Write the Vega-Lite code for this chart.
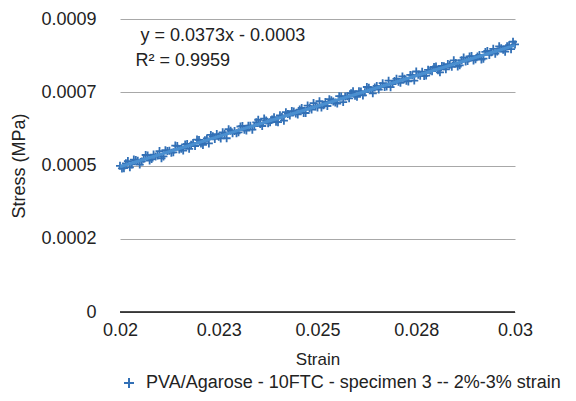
{
  "$schema": "https://vega.github.io/schema/vega-lite/v6.json",
  "width": 395,
  "height": 293,
  "autosize": {"type": "none"},
  "padding": {"left": 120, "top": 19, "right": 61, "bottom": 89},
  "background": "white",
  "config": {
    "view": {"stroke": null},
    "font": "Liberation Sans",
    "axis": {"labelFont": "Liberation Sans", "titleFont": "Liberation Sans", "labelColor": "#222", "titleColor": "#222", "titleFontWeight": "normal"}
  },
  "layer": [
    {
      "data": {"values": [{}]},
      "mark": {"type": "rule", "color": "#111", "strokeWidth": 1.3},
      "encoding": {"y": {"datum": 0, "type": "quantitative"}}
    },
    {
      "data": {"values": [
        {"strain": 0.0200, "stress": 0.0004490},
        {"strain": 0.0201, "stress": 0.0004417},
        {"strain": 0.0202, "stress": 0.0004635},
        {"strain": 0.0203, "stress": 0.0004532},
        {"strain": 0.0204, "stress": 0.0004669},
        {"strain": 0.0205, "stress": 0.0004527},
        {"strain": 0.0206, "stress": 0.0004704},
        {"strain": 0.0207, "stress": 0.0004811},
        {"strain": 0.0208, "stress": 0.0004698},
        {"strain": 0.0209, "stress": 0.0004776},
        {"strain": 0.0210, "stress": 0.0004943},
        {"strain": 0.0211, "stress": 0.0004780},
        {"strain": 0.0212, "stress": 0.0004948},
        {"strain": 0.0213, "stress": 0.0004895},
        {"strain": 0.0214, "stress": 0.0005112},
        {"strain": 0.0215, "stress": 0.0004990},
        {"strain": 0.0216, "stress": 0.0004957},
        {"strain": 0.0217, "stress": 0.0005164},
        {"strain": 0.0218, "stress": 0.0005141},
        {"strain": 0.0219, "stress": 0.0005099},
        {"strain": 0.0220, "stress": 0.0005286},
        {"strain": 0.0221, "stress": 0.0005133},
        {"strain": 0.0222, "stress": 0.0005331},
        {"strain": 0.0223, "stress": 0.0005438},
        {"strain": 0.0224, "stress": 0.0005315},
        {"strain": 0.0225, "stress": 0.0005383},
        {"strain": 0.0226, "stress": 0.0005520},
        {"strain": 0.0227, "stress": 0.0005337},
        {"strain": 0.0228, "stress": 0.0005564},
        {"strain": 0.0229, "stress": 0.0005562},
        {"strain": 0.0230, "stress": 0.0005519},
        {"strain": 0.0231, "stress": 0.0005716},
        {"strain": 0.0232, "stress": 0.0005574},
        {"strain": 0.0233, "stress": 0.0005721},
        {"strain": 0.0234, "stress": 0.0005708},
        {"strain": 0.0235, "stress": 0.0005906},
        {"strain": 0.0236, "stress": 0.0005713},
        {"strain": 0.0237, "stress": 0.0005880},
        {"strain": 0.0238, "stress": 0.0005827},
        {"strain": 0.0239, "stress": 0.0005985},
        {"strain": 0.0240, "stress": 0.0005832},
        {"strain": 0.0241, "stress": 0.0005999},
        {"strain": 0.0242, "stress": 0.0006137},
        {"strain": 0.0243, "stress": 0.0006034},
        {"strain": 0.0244, "stress": 0.0006161},
        {"strain": 0.0245, "stress": 0.0006069},
        {"strain": 0.0246, "stress": 0.0006266},
        {"strain": 0.0247, "stress": 0.0006113},
        {"strain": 0.0248, "stress": 0.0006270},
        {"strain": 0.0249, "stress": 0.0006418},
        {"strain": 0.0250, "stress": 0.0006285},
        {"strain": 0.0251, "stress": 0.0006282},
        {"strain": 0.0252, "stress": 0.0006450},
        {"strain": 0.0253, "stress": 0.0006537},
        {"strain": 0.0254, "stress": 0.0006464},
        {"strain": 0.0255, "stress": 0.0006402},
        {"strain": 0.0256, "stress": 0.0006619},
        {"strain": 0.0257, "stress": 0.0006616},
        {"strain": 0.0258, "stress": 0.0006563},
        {"strain": 0.0259, "stress": 0.0006781},
        {"strain": 0.0260, "stress": 0.0006608},
        {"strain": 0.0261, "stress": 0.0006775},
        {"strain": 0.0262, "stress": 0.0006753},
        {"strain": 0.0263, "stress": 0.0006890},
        {"strain": 0.0264, "stress": 0.0006717},
        {"strain": 0.0265, "stress": 0.0006945},
        {"strain": 0.0266, "stress": 0.0006932},
        {"strain": 0.0267, "stress": 0.0006909},
        {"strain": 0.0268, "stress": 0.0007106},
        {"strain": 0.0269, "stress": 0.0007004},
        {"strain": 0.0270, "stress": 0.0007161},
        {"strain": 0.0271, "stress": 0.0007038},
        {"strain": 0.0272, "stress": 0.0007166},
        {"strain": 0.0273, "stress": 0.0007083},
        {"strain": 0.0274, "stress": 0.0007270},
        {"strain": 0.0275, "stress": 0.0007388},
        {"strain": 0.0276, "stress": 0.0007255},
        {"strain": 0.0277, "stress": 0.0007252},
        {"strain": 0.0278, "stress": 0.0007439},
        {"strain": 0.0279, "stress": 0.0007397},
        {"strain": 0.0280, "stress": 0.0007544},
        {"strain": 0.0281, "stress": 0.0007361},
        {"strain": 0.0282, "stress": 0.0007549},
        {"strain": 0.0283, "stress": 0.0007616},
        {"strain": 0.0284, "stress": 0.0007533},
        {"strain": 0.0285, "stress": 0.0007651},
        {"strain": 0.0286, "stress": 0.0007578},
        {"strain": 0.0287, "stress": 0.0007815},
        {"strain": 0.0288, "stress": 0.0007712},
        {"strain": 0.0289, "stress": 0.0007860},
        {"strain": 0.0290, "stress": 0.0007767},
        {"strain": 0.0291, "stress": 0.0007894},
        {"strain": 0.0292, "stress": 0.0007782},
        {"strain": 0.0293, "stress": 0.0008019},
        {"strain": 0.0294, "stress": 0.0007976},
        {"strain": 0.0295, "stress": 0.0007934},
        {"strain": 0.0296, "stress": 0.0008161},
        {"strain": 0.0297, "stress": 0.0008058},
        {"strain": 0.0298, "stress": 0.0008165},
        {"strain": 0.0299, "stress": 0.0008073},
        {"strain": 0.0300, "stress": 0.0008220},
        {"strain": 0.02005, "stress": 0.0004409},
        {"strain": 0.02015, "stress": 0.0004566},
        {"strain": 0.02025, "stress": 0.0004443},
        {"strain": 0.02035, "stress": 0.0004681},
        {"strain": 0.02045, "stress": 0.0004648},
        {"strain": 0.02055, "stress": 0.0004625},
        {"strain": 0.02065, "stress": 0.0004822},
        {"strain": 0.02075, "stress": 0.0004650},
        {"strain": 0.02085, "stress": 0.0004837},
        {"strain": 0.02095, "stress": 0.0004804},
        {"strain": 0.02105, "stress": 0.0004722},
        {"strain": 0.02115, "stress": 0.0004969},
        {"strain": 0.02125, "stress": 0.0004956},
        {"strain": 0.02135, "stress": 0.0004904},
        {"strain": 0.02145, "stress": 0.0005101},
        {"strain": 0.02155, "stress": 0.0005018},
        {"strain": 0.02165, "stress": 0.0005145},
        {"strain": 0.02175, "stress": 0.0005013},
        {"strain": 0.02185, "stress": 0.0005190},
        {"strain": 0.02195, "stress": 0.0005297},
        {"strain": 0.02205, "stress": 0.0005175},
        {"strain": 0.02215, "stress": 0.0005272},
        {"strain": 0.02225, "stress": 0.0005179},
        {"strain": 0.02235, "stress": 0.0005397},
        {"strain": 0.02245, "stress": 0.0005464},
        {"strain": 0.02255, "stress": 0.0005331},
        {"strain": 0.02265, "stress": 0.0005478},
        {"strain": 0.02275, "stress": 0.0005616},
        {"strain": 0.02285, "stress": 0.0005493},
        {"strain": 0.02295, "stress": 0.0005490},
        {"strain": 0.02305, "stress": 0.0005698},
        {"strain": 0.02315, "stress": 0.0005595},
        {"strain": 0.02325, "stress": 0.0005722},
        {"strain": 0.02335, "stress": 0.0005600},
        {"strain": 0.02345, "stress": 0.0005827},
        {"strain": 0.02355, "stress": 0.0005774},
        {"strain": 0.02365, "stress": 0.0005941},
        {"strain": 0.02375, "stress": 0.0005799},
        {"strain": 0.02385, "stress": 0.0005916},
        {"strain": 0.02395, "stress": 0.0005843},
        {"strain": 0.02405, "stress": 0.0006041},
        {"strain": 0.02415, "stress": 0.0005878},
        {"strain": 0.02425, "stress": 0.0006085},
        {"strain": 0.02435, "stress": 0.0006173},
        {"strain": 0.02445, "stress": 0.0006100},
        {"strain": 0.02455, "stress": 0.0006217},
        {"strain": 0.02465, "stress": 0.0006114},
        {"strain": 0.02475, "stress": 0.0006342},
        {"strain": 0.02485, "stress": 0.0006219},
        {"strain": 0.02495, "stress": 0.0006316},
        {"strain": 0.02505, "stress": 0.0006474},
        {"strain": 0.02515, "stress": 0.0006351},
        {"strain": 0.02525, "stress": 0.0006328},
        {"strain": 0.02535, "stress": 0.0006506},
        {"strain": 0.02545, "stress": 0.0006433},
        {"strain": 0.02555, "stress": 0.0006630},
        {"strain": 0.02565, "stress": 0.0006447},
        {"strain": 0.02575, "stress": 0.0006625},
        {"strain": 0.02585, "stress": 0.0006722},
        {"strain": 0.02595, "stress": 0.0006639},
        {"strain": 0.02605, "stress": 0.0006777},
        {"strain": 0.02615, "stress": 0.0006654},
        {"strain": 0.02625, "stress": 0.0006911},
        {"strain": 0.02635, "stress": 0.0006819},
        {"strain": 0.02645, "stress": 0.0006896},
        {"strain": 0.02655, "stress": 0.0006833},
        {"strain": 0.02665, "stress": 0.0007030},
        {"strain": 0.02675, "stress": 0.0006928},
        {"strain": 0.02685, "stress": 0.0006905},
        {"strain": 0.02695, "stress": 0.0007092},
        {"strain": 0.02705, "stress": 0.0007070},
        {"strain": 0.02715, "stress": 0.0007237},
        {"strain": 0.02725, "stress": 0.0007104},
        {"strain": 0.02735, "stress": 0.0007282},
        {"strain": 0.02745, "stress": 0.0007109},
        {"strain": 0.02755, "stress": 0.0007286},
        {"strain": 0.02765, "stress": 0.0007383},
        {"strain": 0.02775, "stress": 0.0007261},
        {"strain": 0.02785, "stress": 0.0007418},
        {"strain": 0.02795, "stress": 0.0007525},
        {"strain": 0.02805, "stress": 0.0007423},
        {"strain": 0.02815, "stress": 0.0007560},
        {"strain": 0.02825, "stress": 0.0007457},
        {"strain": 0.02835, "stress": 0.0007595},
        {"strain": 0.02845, "stress": 0.0007732},
        {"strain": 0.02855, "stress": 0.0007539},
        {"strain": 0.02865, "stress": 0.0007736},
        {"strain": 0.02875, "stress": 0.0007694},
        {"strain": 0.02885, "stress": 0.0007851},
        {"strain": 0.02895, "stress": 0.0007728},
        {"strain": 0.02905, "stress": 0.0007846},
        {"strain": 0.02915, "stress": 0.0007753},
        {"strain": 0.02925, "stress": 0.0007990},
        {"strain": 0.02935, "stress": 0.0007898},
        {"strain": 0.02945, "stress": 0.0008085},
        {"strain": 0.02955, "stress": 0.0008002},
        {"strain": 0.02965, "stress": 0.0008099},
        {"strain": 0.02975, "stress": 0.0007997},
        {"strain": 0.02985, "stress": 0.0008194},
        {"strain": 0.02995, "stress": 0.0008301}
      ]},
      "mark": {"type": "point", "shape": "M-1,0H1M0,-1V1", "filled": false, "strokeWidth": 1.8, "size": 64, "opacity": 1},
      "encoding": {
        "x": {"field": "strain", "type": "quantitative", "scale": {"domain": [0.02, 0.03], "nice": false, "zero": false},
          "axis": {"title": "Strain", "values": [0.02, 0.0225, 0.025, 0.0275, 0.03],
            "labelExpr": "datum.value < 0.021 ? '0.02' : datum.value < 0.024 ? '0.023' : datum.value < 0.026 ? '0.025' : datum.value < 0.029 ? '0.028' : '0.03'",
            "grid": false, "ticks": false, "domain": false, "labelFlush": false, "labelOverlap": false,
            "labelFontSize": 18, "labelPadding": 9, "titleFontSize": 17, "titlePadding": 12}},
        "y": {"field": "stress", "type": "quantitative", "scale": {"domain": [0, 0.0009], "nice": false},
          "axis": {"title": "Stress (MPa)", "values": [0.000225, 0.00045, 0.000675, 0.0009, 0],
            "labelExpr": "datum.value == 0 ? '0' : datum.value < 0.0003 ? '0.0002' : datum.value < 0.0005 ? '0.0005' : datum.value < 0.0008 ? '0.0007' : '0.0009'",
            "grid": true, "gridColor": "#a8a8a8", "gridWidth": 1, "ticks": false, "domain": false,
            "labelFontSize": 18, "labelPadding": 24, "titleFontSize": 18, "titlePadding": 12}},
        "color": {"datum": "PVA/Agarose - 10FTC - specimen 3 -- 2%-3% strain", "type": "nominal",
          "scale": {"range": ["#3270b6"]},
          "legend": {"title": null, "orient": "none", "legendX": 0, "legendY": 355, "padding": 0,
            "symbolType": "M-1,0H1M0,-1V1", "symbolStrokeWidth": 2, "symbolSize": 100, "symbolFillColor": "transparent",
            "labelFontSize": 18, "labelLimit": 0, "labelFont": "Liberation Sans", "labelColor": "#222", "labelOffset": 8}}
      }
    },
    {
      "data": {"values": [
        {"strain": 0.0200, "stress": 0.000446},
        {"strain": 0.0300, "stress": 0.000819}
      ]},
      "mark": {"type": "line", "color": "#4a8fd0", "strokeWidth": 3},
      "encoding": {
        "x": {"field": "strain", "type": "quantitative"},
        "y": {"field": "stress", "type": "quantitative"}
      }
    },
    {
      "data": {"values": [
        {"strain": 0.02052, "stress": 0.000848, "label": "y = 0.0373x - 0.0003"},
        {"strain": 0.02039, "stress": 0.000772, "label": "R² = 0.9959"}
      ]},
      "mark": {"type": "text", "align": "left", "baseline": "middle", "fontSize": 18, "font": "Liberation Sans", "color": "#222"},
      "encoding": {
        "x": {"field": "strain", "type": "quantitative"},
        "y": {"field": "stress", "type": "quantitative"},
        "text": {"field": "label"}
      }
    }
  ]
}
